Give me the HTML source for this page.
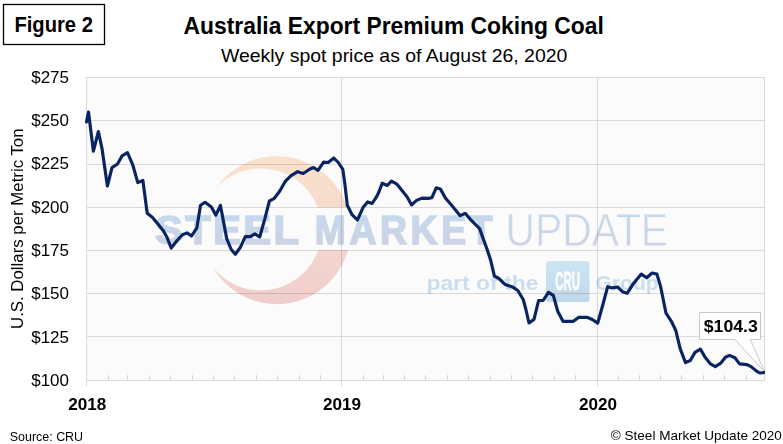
<!DOCTYPE html>
<html><head><meta charset="utf-8">
<style>
html,body{margin:0;padding:0;background:#fff;}
body{width:783px;height:444px;overflow:hidden;}
svg{display:block;font-family:"Liberation Sans",sans-serif;}
</style></head><body>
<svg width="783" height="444" viewBox="0 0 783 444">
<defs>
<linearGradient id="gcres" x1="0" y1="0" x2="0" y2="1">
<stop offset="0" stop-color="#fde6cf"/>
<stop offset="0.5" stop-color="#f9ddd2"/>
<stop offset="1" stop-color="#f3d0d1"/>
</linearGradient>
<linearGradient id="gtxt" x1="0" y1="0" x2="0" y2="1">
<stop offset="0" stop-color="#c5dff2"/>
<stop offset="1" stop-color="#d3d4e6"/>
</linearGradient>
<linearGradient id="gcru" x1="0" y1="0" x2="0" y2="1">
<stop offset="0" stop-color="#cfeaf8"/>
<stop offset="1" stop-color="#c3daee"/>
</linearGradient>
<clipPath id="clipplot"><rect x="84" y="70" width="681" height="320"/></clipPath>
<mask id="mcres">
<rect x="0" y="0" width="783" height="444" fill="#000"/>
<circle cx="276.8" cy="230.2" r="74" fill="#fff"/>
<circle cx="260.8" cy="229.4" r="61" fill="#000"/>
</mask>
</defs>
<rect x="0" y="0" width="783" height="444" fill="#fff"/>
<!-- figure box -->
<rect x="3.5" y="4.5" width="101" height="40" fill="none" stroke="#000" stroke-width="1.3"/>
<text x="14.4" y="31.8" font-size="21.4" font-weight="bold" textLength="78.5" lengthAdjust="spacingAndGlyphs">Figure 2</text>
<!-- title -->
<text x="183.6" y="33.7" font-size="23.2" font-weight="bold" textLength="420.3" lengthAdjust="spacingAndGlyphs">Australia Export Premium Coking Coal</text>
<text x="221" y="61.8" font-size="17.9" textLength="346.3" lengthAdjust="spacingAndGlyphs">Weekly spot price as of August 26, 2020</text>
<!-- plot bg -->
<rect x="86.5" y="77.5" width="678" height="303" fill="#fbfbfb"/>
<!-- grid -->
<g stroke="#d9d9d9" stroke-width="1" fill="none">
<rect x="86.5" y="77.5" width="678" height="303"/>
<line x1="86" y1="120.5" x2="764.5" y2="120.5"/>
<line x1="86" y1="164.5" x2="764.5" y2="164.5"/>
<line x1="86" y1="207.5" x2="764.5" y2="207.5"/>
<line x1="86" y1="250.5" x2="764.5" y2="250.5"/>
<line x1="86" y1="293.5" x2="764.5" y2="293.5"/>
<line x1="86" y1="336.5" x2="764.5" y2="336.5"/>
<line x1="341.5" y1="77" x2="341.5" y2="386.5"/>
<line x1="597.5" y1="77" x2="597.5" y2="386.5"/>
<line x1="86.5" y1="380" x2="86.5" y2="386.5"/>
<line x1="108.5" y1="375" x2="108.5" y2="380"/>
<line x1="127.5" y1="375" x2="127.5" y2="380"/>
<line x1="149.5" y1="375" x2="149.5" y2="380"/>
<line x1="170.5" y1="375" x2="170.5" y2="380"/>
<line x1="192.5" y1="375" x2="192.5" y2="380"/>
<line x1="213.5" y1="375" x2="213.5" y2="380"/>
<line x1="234.5" y1="375" x2="234.5" y2="380"/>
<line x1="256.5" y1="375" x2="256.5" y2="380"/>
<line x1="277.5" y1="375" x2="277.5" y2="380"/>
<line x1="299.5" y1="375" x2="299.5" y2="380"/>
<line x1="320.5" y1="375" x2="320.5" y2="380"/>
<line x1="363.5" y1="375" x2="363.5" y2="380"/>
<line x1="383.5" y1="375" x2="383.5" y2="380"/>
<line x1="404.5" y1="375" x2="404.5" y2="380"/>
<line x1="425.5" y1="375" x2="425.5" y2="380"/>
<line x1="447.5" y1="375" x2="447.5" y2="380"/>
<line x1="468.5" y1="375" x2="468.5" y2="380"/>
<line x1="490.5" y1="375" x2="490.5" y2="380"/>
<line x1="511.5" y1="375" x2="511.5" y2="380"/>
<line x1="532.5" y1="375" x2="532.5" y2="380"/>
<line x1="554.5" y1="375" x2="554.5" y2="380"/>
<line x1="575.5" y1="375" x2="575.5" y2="380"/>
<line x1="618.5" y1="375" x2="618.5" y2="380"/>
<line x1="639.5" y1="375" x2="639.5" y2="380"/>
<line x1="660.5" y1="375" x2="660.5" y2="380"/>
<line x1="681.5" y1="375" x2="681.5" y2="380"/>
<line x1="703.5" y1="375" x2="703.5" y2="380"/>
<line x1="724.5" y1="375" x2="724.5" y2="380"/>
<line x1="746.5" y1="375" x2="746.5" y2="380"/>
</g>
<!-- watermark -->
<g style="mix-blend-mode:multiply">
<g mask="url(#mcres)"><rect x="190" y="150" width="170" height="160" fill="url(#gcres)"/></g>
<rect x="140" y="207.5" width="540" height="42.5" fill="#ffffff"/>
<g fill="url(#gtxt)" stroke="url(#gtxt)" stroke-width="1.6" stroke-linejoin="miter">
<text transform="matrix(1.02,0,0,1,155.0,243.9)" x="0" y="0" font-size="41" font-weight="bold" textLength="141.2" lengthAdjust="spacing">STEEL</text>
<text transform="matrix(0.91,0,0,1,314.8,244.0)" x="0" y="0" font-size="41" font-weight="bold" textLength="195.2" lengthAdjust="spacing">MARKET</text>
</g>
<text x="505.6" y="245.8" font-size="45.3" textLength="162.5" lengthAdjust="spacingAndGlyphs" fill="url(#gtxt)" stroke="#fbfbfb" stroke-width="0.8">UPDATE</text>
<g fill="#cfe2f1">
<text x="426.4" y="289.5" font-size="19.5" font-weight="bold" textLength="112" lengthAdjust="spacingAndGlyphs">part of the</text>
<text x="595.6" y="289.5" font-size="19.5" font-weight="bold" textLength="63" lengthAdjust="spacingAndGlyphs">Group</text>
</g>
<rect x="546" y="261" width="43.5" height="41" rx="2.5" fill="url(#gcru)"/>
<text x="555.2" y="290" font-size="25.6" font-weight="bold" fill="#fff" stroke="#fff" stroke-width="0.8" textLength="24.8" lengthAdjust="spacingAndGlyphs">CRU</text>
</g>
<!-- callout -->
<path d="M699.5,312.5 L760.5,312.5 L760.5,339.5 L750.4,339.5 L764.6,372 L734.9,339.5 L699.5,339.5 Z" fill="#fff" stroke="#c8c8c8" stroke-width="1"/>
<!-- data line -->
<path d="M86.5,121.9 L88.5,112.0 L93.4,151.2 L98.4,131.5 L102.0,148.6 L107.4,186.0 L112.0,167.6 L117.5,164.0 L122.0,155.9 L127.5,152.7 L132.8,165.0 L137.8,182.6 L142.9,180.5 L147.2,213.2 L152.3,217.2 L157.7,223.7 L163.1,230.4 L166.7,236.7 L171.2,248.0 L177.1,240.5 L182.5,234.7 L187.0,232.9 L191.5,236.0 L196.9,227.8 L200.5,205.3 L205.0,202.3 L211.4,207.1 L215.9,215.2 L220.4,205.3 L226.7,238.6 L231.2,249.5 L235.3,254.3 L240.1,247.8 L245.3,236.6 L250.3,236.6 L254.8,233.9 L259.7,237.0 L264.9,218.6 L269.4,201.0 L273.9,198.7 L279.5,191.5 L285.2,181.4 L290.8,175.8 L297.6,171.7 L303.2,173.5 L310.0,169.0 L313.5,167.5 L318.0,170.4 L323.6,162.1 L328.2,162.5 L333.8,158.0 L338.3,162.5 L342.8,169.3 L345.0,185.0 L347.3,205.3 L351.8,214.3 L357.4,220.0 L363.0,207.6 L367.6,201.9 L372.1,203.5 L376.3,197.2 L378.8,192.3 L382.2,183.2 L387.3,185.5 L391.4,181.1 L397.0,184.2 L402.4,191.0 L407.2,197.0 L411.6,204.9 L416.6,200.4 L422.0,198.1 L428.1,198.4 L431.9,197.7 L436.2,187.8 L440.3,188.9 L445.6,198.2 L450.8,204.3 L455.3,209.7 L460.2,215.7 L465.2,213.3 L470.6,219.6 L479.6,228.6 L483.2,238.6 L486.8,248.5 L490.6,260.0 L494.4,276.1 L498.9,278.5 L505.2,284.6 L512.4,286.9 L517.8,290.5 L523.2,299.5 L525.9,309.5 L529.0,323.0 L534.0,319.4 L538.6,300.5 L543.1,300.5 L548.5,292.3 L553.3,295.3 L557.8,311.5 L563.0,321.3 L573.4,321.3 L578.8,317.3 L586.9,317.3 L592.3,319.5 L597.7,323.1 L602.3,306.8 L607.7,286.7 L612.2,287.9 L617.6,287.0 L623.0,292.1 L627.2,293.3 L633.5,283.4 L641.3,274.1 L646.7,277.7 L652.1,273.0 L656.9,274.1 L660.5,286.1 L666.0,313.2 L671.4,321.3 L675.7,330.2 L680.1,348.4 L685.5,362.6 L690.3,360.5 L695.0,352.4 L700.4,349.1 L705.1,357.2 L710.5,363.9 L715.3,366.6 L720.7,363.2 L725.4,357.2 L729.5,355.4 L734.9,357.8 L739.6,363.9 L747.0,364.6 L751.1,366.6 L756.5,371.1 L759.9,373.0 L764.6,372.5" clip-path="url(#clipplot)" fill="none" stroke="#0a2462" stroke-width="3.15" stroke-linejoin="round" stroke-linecap="round"/>
<text x="703.8" y="331.8" font-size="16.5" font-weight="bold" textLength="54" lengthAdjust="spacingAndGlyphs">$104.3</text>
<!-- y labels -->
<g font-size="16.6" fill="#000">
<text x="31.2" y="82.8" textLength="37.8" lengthAdjust="spacingAndGlyphs">$275</text>
<text x="31.2" y="126.1" textLength="37.8" lengthAdjust="spacingAndGlyphs">$250</text>
<text x="31.2" y="169.4" textLength="37.8" lengthAdjust="spacingAndGlyphs">$225</text>
<text x="31.2" y="212.7" textLength="37.8" lengthAdjust="spacingAndGlyphs">$200</text>
<text x="31.2" y="255.9" textLength="37.8" lengthAdjust="spacingAndGlyphs">$175</text>
<text x="31.2" y="299.2" textLength="37.8" lengthAdjust="spacingAndGlyphs">$150</text>
<text x="31.2" y="342.5" textLength="37.8" lengthAdjust="spacingAndGlyphs">$125</text>
<text x="31.2" y="385.8" textLength="37.8" lengthAdjust="spacingAndGlyphs">$100</text>
</g>
<text transform="translate(22.8,329) rotate(-90)" font-size="17" textLength="200.5" lengthAdjust="spacingAndGlyphs">U.S. Dollars per Metric Ton</text>
<!-- x labels -->
<g font-size="17.1" font-weight="bold" text-anchor="middle">
<text x="87.2" y="409.8">2018</text>
<text x="341.9" y="409.8">2019</text>
<text x="597.9" y="409.8">2020</text>
</g>
<text x="9.8" y="440.7" font-size="12.2" textLength="73.3" lengthAdjust="spacingAndGlyphs">Source: CRU</text>
<text x="610.8" y="440.2" font-size="13.6" textLength="171" lengthAdjust="spacingAndGlyphs">© Steel Market Update 2020</text>
</svg>
</body></html>
